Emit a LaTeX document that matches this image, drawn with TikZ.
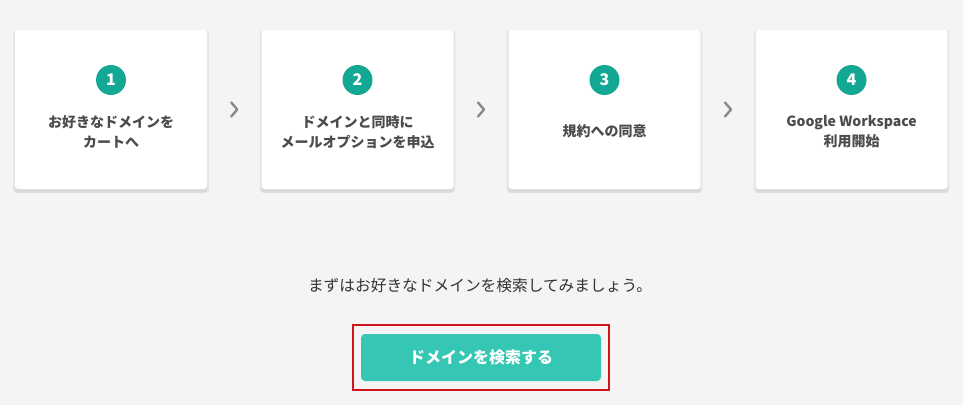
\documentclass[tikz,border=0pt]{standalone}
\usepackage{fontspec}
\setmainfont{Noto Sans CJK JP}
\usepackage{tikz}
\usetikzlibrary{calc,shadows}

\definecolor{pagebg}{HTML}{F4F4F4}
\definecolor{stepgreen}{HTML}{13A894}
\definecolor{btngreen}{HTML}{35C7B4}
\definecolor{txtgray}{HTML}{4E4C4A}
\definecolor{chevgray}{HTML}{8A8A8A}
\definecolor{frame}{HTML}{D0121B}

\tikzset{
	card/.style={fill=white, rounded corners=3pt, minimum width=192pt, minimum height=159pt,
		drop shadow={shadow xshift=0pt, shadow yshift=-2pt, shadow scale=1.02, opacity=0.06, fill=black},
		drop shadow={shadow xshift=0pt, shadow yshift=-4pt, opacity=0.05, fill=black}},
	num/.style={circle, fill=stepgreen, minimum size=30pt, inner sep=0pt, text=white,
		font=\fontsize{16}{16}\selectfont\bfseries},
	label/.style={text=txtgray, align=center, font=\fontsize{14}{20}\selectfont\bfseries},
	chev/.style={draw=chevgray, line width=2.4pt, line cap=round, line join=round}
}

\begin{document}
\begin{tikzpicture}[x=1pt,y=-1pt]
	
	\fill[pagebg] (0,0) rectangle (963,405);
	\useasboundingbox (0,0) rectangle (963,405);
	
	\node[card] (card1) at (111,109.5) {};
	\node[card] (card2) at (357.5,109.5) {};
	\node[card] (card3) at (604.5,109.5) {};
	\node[card] (card4) at (851.5,109.5) {};
	
	\node[num] (num1) at (111,80) {1};
	\node[num] (num2) at (357.5,80) {2};
	\node[num] (num3) at (604.5,80) {3};
	\node[num] (num4) at (851.5,80) {4};
	
	\node[label] (txt1) at (111,132) {お好きなドメインを\\カートへ};
	\node[label] (txt2) at (357.5,132) {ドメインと同時に\\メールオプションを申込};
	\node[label] (txt3) at (604.5,131) {規約への同意};
	\node[label] (txt4) at (851.5,132) {Google Workspace\\利用開始};
	
	\draw[chev] ($(card1.east)!0.5!(card2.west)$) ++(-3,-7) -- ++(6,7) -- ++(-6,7);
	\draw[chev] ($(card2.east)!0.5!(card3.west)$) ++(-3,-7) -- ++(6,7) -- ++(-6,7);
	\draw[chev] ($(card3.east)!0.5!(card4.west)$) ++(-3,-7) -- ++(6,7) -- ++(-6,7);
	
	\node[text=black!80, font=\fontsize{15.7}{16}\selectfont] (lead) at (480,286) {まずはお好きなドメインを検索してみましょう。};
	
	\node[fill=btngreen, rounded corners=4pt, minimum width=240pt, minimum height=47pt,
		text=white, font=\fontsize{16}{16}\selectfont\bfseries] (btn) at (481,357.5) {ドメインを検索する};
	\node[draw=frame, line width=1.5pt, minimum width=256pt, minimum height=65pt] (mark) at (481,357.5) {};
	
\end{tikzpicture}
\end{document}
